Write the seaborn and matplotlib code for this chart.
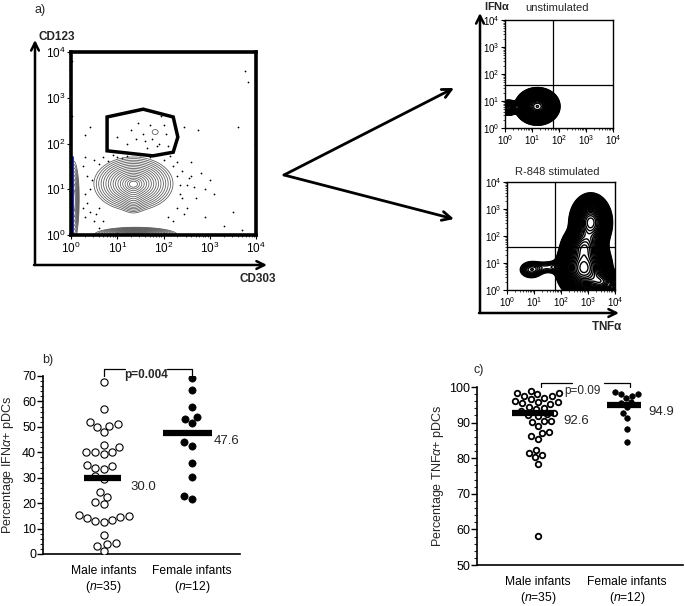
import numpy as np
import pandas as pd
import matplotlib
matplotlib.use("Agg")
import matplotlib.pyplot as plt
import seaborn as sns
from matplotlib.patches import Polygon

sns.set_theme(style="white")
plt.rcParams["font.family"] = ["Liberation Sans", "DejaVu Sans"]
plt.rcParams["mathtext.fontset"] = "custom"
plt.rcParams["mathtext.rm"] = "Liberation Sans"
plt.rcParams["mathtext.it"] = "Liberation Sans:italic"
plt.rcParams["mathtext.bf"] = "Liberation Sans:bold"

# ---------------- data ----------------
groups = ["Male infants", "Female infants"]
group_labels = ["Male infants\n($\\mathit{n}$=35)", "Female infants\n($\\mathit{n}$=12)"]

ifn_male = [67.5, 57, 52, 51, 50.5, 50, 48, 43, 42, 40, 40, 40, 39.5, 35, 34.5,
            34, 33.5, 30.5, 29.5, 24.5, 22.5, 20.5, 19.5, 15.5, 15, 14.5, 14,
            13.5, 13, 12.5, 7.5, 4.5, 4, 3, 1]
ifn_female = [69.1, 64.5, 57.7, 54.0, 53.0, 51.4, 43.9, 42.6, 35.9, 30.4, 22.8, 21.6]
ifn_medians = [30.0, 47.6]
ifn_p = "p=0.004"

tnf_male = [98.9, 98.2, 98.2, 98.0, 97.5, 97.4, 97.0, 96.5, 96.2, 95.9, 95.8, 95.5,
            95.2, 94.5, 94.2, 93.8, 93.2, 92.6, 92.3, 92.0, 91.8, 90.5, 90.4, 90.3,
            89.0, 87.5, 87.2, 86.2, 85.4, 82.3, 81.4, 80.9, 80.2, 78.3, 58.2]
tnf_female = [98.6, 98.0, 97.9, 97.6, 96.8, 95.8, 95.4, 94.5, 92.6, 91.2, 88.2, 84.5]
tnf_medians = [92.6, 94.9]
tnf_p = "p=0.09"

# flow cytometry panel (log10 coordinates); gaussian populations: (x, y, sx, sy, weight)
main_pops = [(1.35, 1.12, 0.38, 0.26, 1.0), (1.35, 0.75, 0.12, 0.15, 0.15),
             (1.40, 0.00, 0.40, 0.075, 1.0), (0.06, 0.75, 0.06, 0.45, 0.5),
             (1.82, 2.25, 0.13, 0.11, 0.09)]
gate_x = [0.78, 1.56, 2.21, 2.31, 2.21, 1.77, 0.78]
gate_y = [2.58, 2.75, 2.58, 2.14, 1.81, 1.73, 1.84]
dots_x = [1.3, 1.45, 1.55, 1.6, 1.7, 1.75, 1.9, 2.0, 2.05, 1.4, 1.2, 1.0, 1.65, 1.95,
          1.85, 2.1, 0.41, 0.30, 2.45, 2.74, 3.6, 3.76, 3.83, 0.02, 0.02, 3.98, 3.98,
          0.5, 0.7, 0.9, 2.3, 2.4, 2.6, 2.5, 2.8, 2.9, 3.0, 2.7, 2.5, 3.3, 2.2, 0.4,
          0.5, 0.3, 0.6, 0.35, 2.35, 2.6, 0.25, 1.1, 2.15, 2.45,
          0.6, 0.8, 1.0, 1.2, 1.5, 1.7, 2.0, 2.2, 2.3, 2.35, 2.4, 2.3, 2.1, 0.45,
          0.4, 0.35, 0.55, 0.7, 0.6, 0.3, 0.25, 0.3, 2.55, 2.65, 3.1, 3.5, 2.9,
          3.7, 2.0, 1.0]
dots_y = [2.3, 2.45, 2.2, 2.05, 2.4, 2.1, 2.0, 2.4, 2.2, 2.1, 2.0, 2.15, 1.9, 2.6,
          1.95, 1.95, 2.37, 2.19, 2.37, 2.30, 2.37, 3.58, 3.35, 3.8, 2.6, 3.0, 2.0,
          1.65, 1.7, 1.75, 1.6, 1.4, 1.3, 1.1, 1.35, 1.0, 1.2, 0.8, 0.6, 0.2, 0.3,
          0.5, 0.3, 0.9, 0.15, 1.3, 0.9, 1.6, 0.6, 1.68, 1.72, 0.45,
          1.55, 1.62, 1.7, 1.72, 1.75, 1.7, 1.65, 1.5, 1.3, 1.1, 0.8, 0.6, 0.4,
          1.2, 1.0, 0.7, 0.45, 0.3, 0.6, 0.4, 1.5, 1.7, 1.25, 1.05, 0.9, 0.5, 0.4,
          0.1, 0.05, 0.05]
unstim_pops = [(1.2, 0.80, 0.30, 0.25, 1.0), (0.12, 0.75, 0.14, 0.12, 0.3)]
stim_pops = [(2.85, 0.80, 0.36, 0.40, 1.0), (3.1, 2.50, 0.28, 0.38, 0.8),
             (2.85, 1.60, 0.30, 0.30, 0.6), (3.5, 0.30, 0.25, 0.20, 0.4),
             (3.9, 0.10, 0.08, 0.10, 0.3), (0.9, 0.75, 0.25, 0.18, 0.045),
             (1.6, 0.85, 0.35, 0.15, 0.025)]
quad_x, quad_y = 1.78, 1.6
decades = [0, 1, 2, 3, 4]

# ---------------- figure ----------------
W, H = 685, 606
fig = plt.figure(figsize=(W / 100, H / 100), dpi=100)


def px_axes(l, t, r, b):
    return fig.add_axes([l / W, 1 - b / H, (r - l) / W, (b - t) / H])


def density(pops, n=400):
    g = np.linspace(0, 4, n)
    X, Y = np.meshgrid(g, g)
    Z = np.zeros_like(X)
    for mx, my, sx, sy, w in pops:
        Z += w * np.exp(-0.5 * (((X - mx) / sx) ** 2 + ((Y - my) / sy) ** 2))
    return X, Y, Z


def ring_levels(rmax, rmin, n):
    # evenly spaced rings for a gaussian population
    r = np.linspace(rmax, rmin, n)
    return np.exp(-0.5 * r ** 2)


minor_pos = [d + np.log10(k) for d in range(4) for k in range(2, 10)]


def flow_axes(ax, fs, lw):
    ax.set_xlim(0, 4)
    ax.set_ylim(0, 4)
    ax.set_xticks(decades)
    ax.set_yticks(decades)
    ax.set_xticks(minor_pos, minor=True)
    ax.set_yticks(minor_pos, minor=True)
    lab = ["$10^{%d}$" % d for d in decades]
    ax.set_xticklabels(lab, fontsize=fs)
    ax.set_yticklabels(lab, fontsize=fs)
    ax.tick_params(which="major", direction="out", length=3, width=0.8, pad=1,
                   bottom=True, left=True, colors="black")
    ax.tick_params(which="minor", direction="out", length=1.5, width=0.6,
                   bottom=True, left=True)
    for s in ax.spines.values():
        s.set_linewidth(lw)
        s.set_color("black")
    ax.set_facecolor("white")


# main CD123 / CD303 plot
axm = px_axes(71, 52, 256, 235)
X, Y, Z = density(main_pops)
axm.contour(X, Y, Z, levels=ring_levels(2.25, 0.2, 16), colors="#555555",
            linewidths=0.55)
axm.scatter(dots_x, dots_y, s=1.6, color="black", lw=0)
axm.plot([0.03, 0.03], [0.02, 1.7], color="#1f33c8", lw=2.2)
axm.add_patch(Polygon(np.column_stack([gate_x, gate_y]), closed=True, fill=False,
                      ec="black", lw=2.5))
flow_axes(axm, 8.5, 2.6)

# unstimulated
axu = px_axes(505, 20, 613, 128)
X, Y, Z = density(unstim_pops)
axu.contour(X, Y, Z, levels=np.geomspace(0.02, 0.99, 40), colors="black",
            linewidths=1.0)
axu.axvline(quad_x, color="black", lw=0.9)
axu.axhline(quad_y, color="black", lw=0.9)
flow_axes(axu, 7, 1.0)

# R-848 stimulated
axs = px_axes(507, 182, 615, 290)
X, Y, Z = density(stim_pops)
axs.contour(X, Y, Z, levels=np.geomspace(0.012, 1.2, 38), colors="black",
            linewidths=1.0)
axs.axvline(quad_x, color="black", lw=0.9)
axs.axhline(quad_y, color="black", lw=0.9)
flow_axes(axs, 7, 1.0)


# ---------------- dot plots ----------------
def dot_panel(ax, male, female, medians, p, ylim, ylabel, male_lw, size,
              bar_spans, label_pos, bracket):
    dm = pd.DataFrame({"group": groups[0], "value": male})
    dfm = pd.DataFrame({"group": groups[1], "value": female})
    sns.swarmplot(data=dm, x="group", y="value", order=groups, ax=ax, size=size,
                  color="white", edgecolor="black", linewidth=male_lw, zorder=3)
    sns.swarmplot(data=dfm, x="group", y="value", order=groups, ax=ax, size=size,
                  color="black", edgecolor="black", linewidth=0.5, zorder=3)
    for i, (m, (a, b)) in enumerate(zip(medians, bar_spans)):
        ax.hlines(m, i + a, i + b, color="black", lw=4.5, zorder=5)
        lx, ly = label_pos[i]
        ax.text(i + lx, ly, "%.1f" % m, fontsize=9.5, va="center", ha="left")
    by, bdrop, g0, g1, x0, x1, tx, ty, bold = bracket
    kw = dict(color="black", lw=0.9, clip_on=False)
    ax.plot([x0, x0, g0], [bdrop, by, by], **kw)
    ax.plot([g1, x1, x1], [by, by, bdrop], **kw)
    ax.text(tx, ty, p, ha="center", va="center", fontsize=8.5,
            fontweight="bold" if bold else "normal", clip_on=False)
    ax.set_ylim(*ylim)
    ax.set_xticks([0, 1])
    ax.set_xticklabels(group_labels, fontsize=8.7, linespacing=1.2)
    ax.set_xlabel("")
    ax.set_ylabel(ylabel, fontsize=9)
    sns.despine(ax=ax)
    for s in ("left", "bottom"):
        ax.spines[s].set_linewidth(1.2)
        ax.spines[s].set_color("black")
    ax.tick_params(axis="x", length=0, pad=8, colors="black")
    ax.tick_params(axis="y", which="major", direction="out", length=4, width=1,
                   left=True, labelsize=9, pad=1, colors="black")
    ax.tick_params(axis="y", which="minor", direction="out", length=2, width=0.8,
                   left=True)
    ax.set_facecolor("white")


axb = px_axes(43, 376, 240, 554)
dot_panel(axb, ifn_male, ifn_female, ifn_medians, ifn_p, (0, 70),
          "Percentage IFN$\\alpha$+ pDCs", 0.8, 5.2,
          [(-0.22, 0.19), (-0.33, 0.23)], [(0.30, 26.5), (0.25, 44.5)],
          (72.7, 70.0, 0.24, 0.72, 0.0, 1.0, 0.48, 70.3, True))
axb.set_xlim(-0.69, 1.545)
axb.set_yticks(np.arange(0, 71, 10))
axb.set_yticks(np.arange(0, 71, 2), minor=True)
axb.yaxis.labelpad = 4

axc = px_axes(477, 387, 683, 565)
dot_panel(axc, tnf_male, tnf_female, tnf_medians, tnf_p, (50, 100),
          "Percentage TNF$\\alpha$+ pDCs", 1.3, 4.0,
          [(-0.29, 0.18), (-0.22, 0.16)], [(0.29, 90.5), (0.24, 93.1)],
          (101.1, 100.0, 0.38, 0.74, 0.03, 1.04, 0.50, 98.9, False))
axc.set_xlim(-0.685, 1.63)
axc.set_yticks(np.arange(50, 101, 10))
axc.set_yticks(np.arange(50, 101, 2), minor=True)
axc.yaxis.labelpad = 2

# ---------------- overlay: arrows & panel labels ----------------
ov = fig.add_axes([0, 0, 1, 1])
ov.set_xlim(0, W)
ov.set_ylim(H, 0)
ov.axis("off")
ov.patch.set_visible(False)
ap = dict(arrowstyle="->", lw=1.8, color="black", mutation_scale=14,
          shrinkA=0, shrinkB=0)
ov.annotate("", xy=(35, 40), xytext=(35, 265), arrowprops=ap)
ov.annotate("", xy=(267, 265), xytext=(34, 265), arrowprops=ap)
ov.annotate("", xy=(480, 13), xytext=(480, 313), arrowprops=ap)
ov.annotate("", xy=(619, 313), xytext=(479, 313), arrowprops=ap)
ap2 = dict(ap, lw=2.0, mutation_scale=16)
ov.annotate("", xy=(454, 88), xytext=(284, 175), arrowprops=ap2)
ov.annotate("", xy=(454, 219), xytext=(284, 175), arrowprops=ap2)

ov.text(39, 37, "CD123", fontsize=8.5, fontweight="bold", ha="left", va="center")
ov.text(258, 279, "CD303", fontsize=8.5, fontweight="bold", ha="center", va="center")
ov.text(484, 6, "IFN$\\mathbf{\\alpha}$", fontsize=8, fontweight="bold",
        ha="left", va="center")
ov.text(557, 8, "unstimulated", fontsize=8, ha="center", va="center")
ov.text(557, 172, "R-848 stimulated", fontsize=8, ha="center", va="center")
ov.text(607, 326, "TNF$\\mathbf{\\alpha}$", fontsize=8.5, fontweight="bold",
        ha="center", va="center")
ov.text(35, 10, "a)", fontsize=9, ha="left", va="center")
ov.text(42, 360, "b)", fontsize=9, ha="left", va="center")
ov.text(474, 370, "c)", fontsize=9, ha="left", va="center")

fig.savefig("out.png", dpi=100, facecolor="white")
